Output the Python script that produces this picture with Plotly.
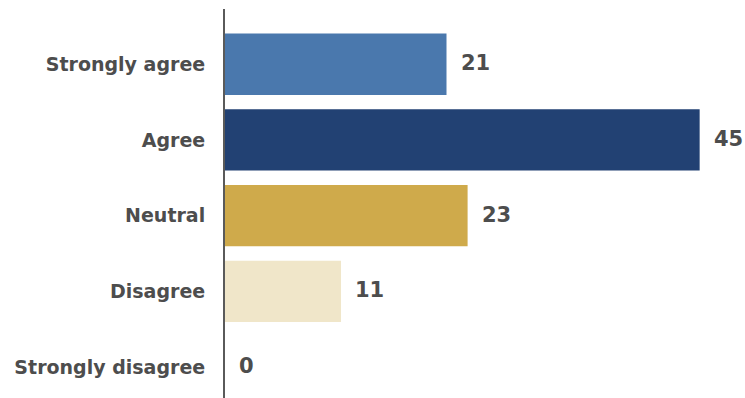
import plotly.graph_objects as go

categories = ["Strongly agree", "Agree", "Neutral", "Disagree", "Strongly disagree"]
values = [21, 45, 23, 11, 0]
colors = ["#4a78ad", "#224173", "#cfaa4b", "#f0e6c9", "#f0e6c9"]

label_font = dict(family="'DejaVu Sans', sans-serif", size=19, color="#4d4d4d", weight="bold")
value_font = dict(family="'DejaVu Sans', sans-serif", size=21, color="#4d4d4d", weight="bold")

fig = go.Figure(
    go.Bar(
        x=values,
        y=categories,
        orientation="h",
        marker=dict(color=colors, line=dict(width=0)),
        hoverinfo="skip",
    )
)

for cat, val in zip(categories, values):
    fig.add_annotation(
        x=val, y=cat, text=str(val), showarrow=False,
        xanchor="left", yanchor="middle", xshift=12, yshift=1, font=value_font,
    )

fig.update_layout(
    width=745, height=398,
    margin=dict(l=225, r=0, t=9, b=0),
    paper_bgcolor="white", plot_bgcolor="white",
    bargap=0.19,
    showlegend=False,
    xaxis=dict(range=[0, 49.3], visible=False, fixedrange=True),
    yaxis=dict(
        type="category",
        range=[4.41, -0.73],
        showline=True, linecolor="#5a5a5a", linewidth=2,
        showgrid=False, zeroline=False,
        ticks="", ticklabelstandoff=14,
        tickfont=label_font,
        fixedrange=True,
    ),
)

fig.write_html("out.html")
